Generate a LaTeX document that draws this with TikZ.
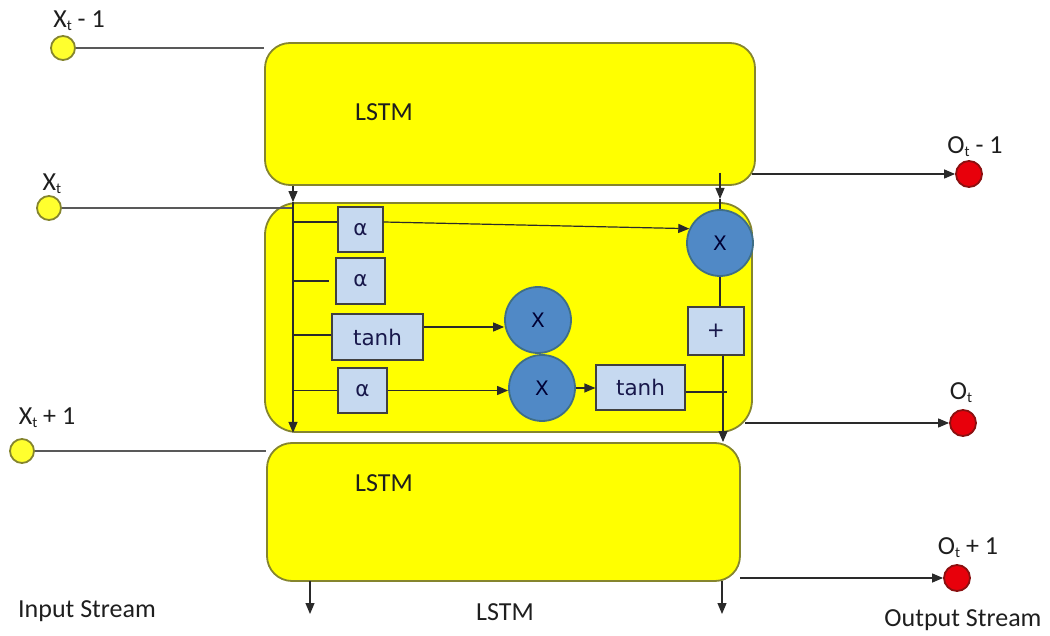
\documentclass[tikz,border=0pt]{standalone}
\usepackage{fontspec}
\setmainfont{Carlito}
\newfontfamily\boxfont{DejaVu Sans}
\usetikzlibrary{arrows.meta}
\definecolor{cellyellow}{HTML}{FFFF00}
\definecolor{cellborder}{HTML}{85852E}
\definecolor{portyellow}{HTML}{FFFF2E}
\definecolor{opblue}{HTML}{5089C6}
\definecolor{opborder}{HTML}{3F6E86}
\definecolor{gatefill}{HTML}{C6D9F0}
\definecolor{outred}{HTML}{E8000B}
\definecolor{outborder}{HTML}{8B1010}
\definecolor{inktext}{HTML}{1E1E1E}
\definecolor{wire}{HTML}{2A2A2A}
\newcommand{\lowsub}[1]{\raisebox{-0.25ex}{\fontsize{15}{18}\selectfont #1}}
\tikzset{
  big/.style={font=\fontsize{26}{30}\selectfont, text=inktext},
  cell/.style={draw=cellborder, line width=1.8pt, fill=cellyellow, inner sep=0pt},
  inport/.style={circle, draw=cellborder, line width=1.8pt, fill=portyellow, minimum size=24pt, inner sep=0pt},
  outport/.style={circle, draw=outborder, line width=1.8pt, fill=outred, minimum size=26pt, inner sep=0pt},
  gate/.style={draw=black!75, line width=1.2pt, fill=gatefill, inner sep=0pt,
    font=\boxfont\fontsize{21.5}{24}\selectfont, text=inktext!80!blue},
  mult/.style={circle, draw=opborder, line width=1.8pt, fill=opblue, minimum size=66pt, inner sep=0pt,
    font=\boxfont\fontsize{20}{24}\selectfont, text=black!80!blue},
  link/.style={draw=wire, line width=1.2pt},
  flow/.style={link, -{Triangle[length=11pt,width=9pt]}},
}
\begin{document}
\begin{tikzpicture}[x=1pt, y=-1pt]
\useasboundingbox (0,0) rectangle (1050,636);

% three stacked LSTM cells
\node[cell, rounded corners=25pt, minimum width=490pt, minimum height=142pt] (lstmA) at (510,114) {};
\node[cell, rounded corners=32pt, minimum width=487pt, minimum height=229pt] (lstmB) at (508.5,317.5) {};
\node[cell, rounded corners=25pt, minimum width=473pt, minimum height=138pt] (lstmC) at (503.5,512) {};
\node[big] (labA) at (384,112) {LSTM};
\node[big] (labC) at (384,483) {LSTM};
\node[big] (labS) at (505,612) {LSTM};

% inputs
\node[inport] (inA) at (63,48) {};
\node[inport] (inB) at (49,208) {};
\node[inport] (inC) at (22,451) {};
\node[big] (tinA) at (79,21) {X\lowsub{t} - 1};
\node[big] (tinB) at (52,184) {X\lowsub{t}};
\node[big] (tinC) at (47,418) {X\lowsub{t} + 1};
\node[big] (tinS) at (87,611) {Input Stream};

% outputs
\node[outport] (outA) at (969,174) {};
\node[outport] (outB) at (963,423) {};
\node[outport] (outC) at (957,578) {};
\node[big] (toutA) at (975,147) {O\lowsub{t} - 1};
\node[big] (toutB) at (961,393) {O\lowsub{t}};
\node[big] (toutC) at (968,548) {O\lowsub{t} + 1};
\node[big] (toutS) at (963,620) {Output Stream};

% gates and operators of the middle cell
\node[gate, minimum width=45pt, minimum height=45pt] (a1) at (360.5,229.5) {α};
\node[gate, minimum width=49pt, minimum height=46pt] (a2) at (360.5,281) {α};
\node[gate, minimum width=91pt, minimum height=46pt] (t1) at (377.5,337) {tanh};
\node[gate, minimum width=49pt, minimum height=45pt] (a3) at (362.5,390.5) {α};
\node[gate, minimum width=89pt, minimum height=45pt] (t2) at (640.5,387.5) {tanh};
\node[gate, minimum width=56pt, minimum height=48pt] (plus) at (716,331) {+};
\node[mult] (c1) at (720,243) {X};
\node[mult] (c2) at (538,320) {X};
\node[mult] (c3) at (542,388) {X};

% helper points for the two vertical rails
\coordinate (railL) at (293,0);
\coordinate (railR) at (720,0);
\coordinate (railRlow) at (723,0);

% input wires
\draw[link, draw=black!65] (inA) -- (inA -| lstmA.west);
\draw[link, draw=black!65] (inB) -- (inB -| railL);
\draw[link, draw=black!65] (inC) -- (inC -| lstmC.west);

% left rail
\draw[flow] (railL |- lstmA.south) -- (railL |- lstmB.north);
\draw[flow] (railL |- lstmB.north) -- (railL |- lstmB.south);
\draw[link] (railL |- 0,222) -- ([yshift=7.5pt]a1.west);
\draw[link] (railL |- a2.west) -- ([xshift=-6pt]a2.west);
\draw[link] (railL |- 0,335) -- (t1.west |- 0,335);
\draw[link] (railL |- a3.west) -- (a3.west);

% gate outputs
\draw[flow] ([yshift=7.5pt]a1.east) -- (c1.155);
\draw[flow] (t1.east |- 0,327) -- (c2.west |- 0,327);
\draw[flow] (a3.east) -- (a3.east -| c3.west);
\draw[flow] (c3.east) -- (c3.east -| t2.west);
\draw[link] (t2.east |- 0,392) -- (727,392);

% right rail
\draw[flow] (railR |- 0,173) -- (railR |- 0,199);
\draw[link] (railR |- 0,199) -- (c1.north);
\draw[link] (c1.south) -- (plus.north -| c1);
\draw[flow] (plus.south -| railRlow) -- (railRlow |- lstmC.north);

% outputs of each cell
\draw[flow] (752,174) -- (outA.west);
\draw[flow] (745,423) -- (outB.west);
\draw[flow] (740,578) -- (outC.west);

% bottom outflow
\draw[flow] (310,581) -- (310,614);
\draw[flow] (722,581) -- (722,614);
\end{tikzpicture}
\end{document}
